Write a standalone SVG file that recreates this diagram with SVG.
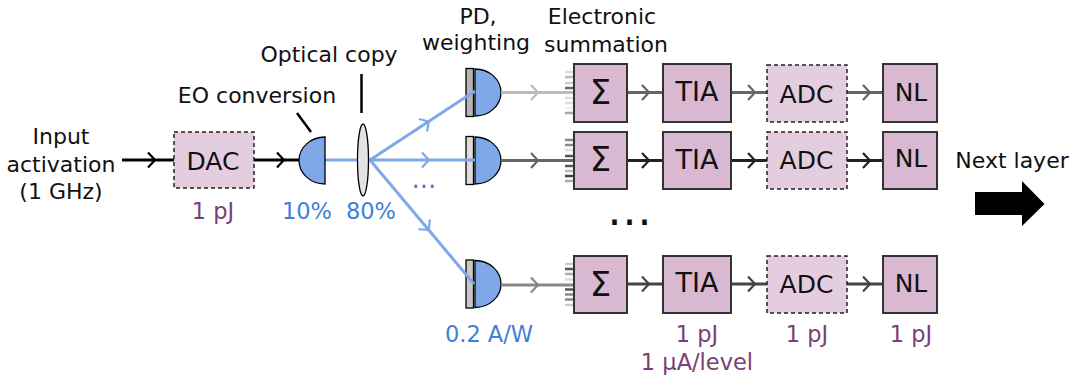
<svg xmlns="http://www.w3.org/2000/svg" width="1073" height="375" viewBox="0 0 1073 375">
<style>
text{font-family:"DejaVu Sans",Verdana,sans-serif;font-size:22px;fill:#111;text-anchor:middle}
.b{fill:#3f7fdc;font-size:22.500px}.m{fill:#7b3f73;font-size:22.500px}
.big{font-size:25px}.tia{font-size:27px}.sig{font-size:34px}
.box{fill:#d9b8d1;stroke:#333;stroke-width:2}
.dash{fill:#e5cde0;stroke:#222;stroke-width:1.500;stroke-dasharray:4 3}
.pd{fill:#7ea8e8;stroke:#000;stroke-width:1.300}
.bar{stroke:#000;stroke-width:1.300}
.l{fill:none;stroke-width:3}
.lb{fill:none;stroke:#7ea8e8;stroke-width:3}
.t{stroke-width:2.500}
</style>
<defs>
<path id="head" d="M-6-7.500L1 0L-6 7.500" fill="none" stroke-width="2.200"/>
<path id="d" d="M0-23.500A26 23.500 0 0 1 0 23.500Z"/>
</defs>
<rect width="1073" height="375" fill="#fff"/>
<g id="pd-bars">
<rect class="bar" x="466" y="68.500" width="7.500" height="48" fill="#b5b5b5"/>
<rect class="bar" x="466" y="136.500" width="7.500" height="48" fill="#dcdcdc"/>
<rect class="bar" x="466" y="260" width="7.500" height="48" fill="#c8c8c8"/>
</g>
<g id="pd-bodies">
<use href="#d" x="475" y="92.500" class="pd"/>
<use href="#d" x="475" y="160.500" class="pd"/>
<use href="#d" x="475" y="284" class="pd"/>
</g>
<g id="connectors">
<g stroke="#000"><path class="l" d="M122 160H174M254 160H299"/><use href="#head" x="154" y="160"/><use href="#head" x="283" y="160"/></g>
<g stroke="#000"><path d="M361.500 74V113M297 113L311 132" fill="none" stroke-width="2.500"/></g>
<g stroke="#7ea8e8"><path class="lb" d="M325 160H475M370 160L475 91M370 160L474 284"/><use href="#head" x="428" y="160"/><use href="#head" transform="translate(428,122) rotate(-33)"/><use href="#head" transform="translate(428,229) rotate(50)"/></g>
<g stroke="#bbb"><path class="l" d="M501 92.500H574"/><use href="#head" x="537" y="92.500"/></g>
<g stroke="#666"><path class="l" d="M501 160.500H574"/><use href="#head" x="537" y="160.500"/></g>
<g stroke="#888"><path class="l" d="M501 285H574"/><use href="#head" x="537" y="285"/></g>
<g stroke="#666"><path class="l" d="M627 92.500H663M731 92.500H767M847 92.500H883"/><use href="#head" x="648" y="92.500"/><use href="#head" x="754" y="92.500"/><use href="#head" x="869" y="92.500"/></g>
<g stroke="#222"><path class="l" d="M627 160.500H663M731 160.500H767M847 160.500H883"/><use href="#head" x="648" y="160.500"/><use href="#head" x="754" y="160.500"/><use href="#head" x="869" y="160.500"/></g>
<g stroke="#444"><path class="l" d="M627 284H663M731 284H767M847 284H883"/><use href="#head" x="648" y="284"/><use href="#head" x="754" y="284"/><use href="#head" x="869" y="284"/></g>
<g id="comb1" class="t"><path stroke="#ddd" d="M565 72H574"/><path stroke="#bbb" d="M565 77H574"/><path stroke="#ccc" d="M565 83H574"/><path stroke="#666" d="M565 88H574"/><path stroke="#ddd" d="M565 98H574"/><path stroke="#ddd" d="M565 103H574"/><path stroke="#eee" d="M565 108H574"/><path stroke="#aaa" d="M565 113H574"/></g>
<g id="comb2" class="t"><path stroke="#888" d="M565 140H574"/><path stroke="#888" d="M565 145H574"/><path stroke="#ddd" d="M565 150H574"/><path stroke="#555" d="M565 156H574"/><path stroke="#555" d="M565 166H574"/><path stroke="#bbb" d="M565 171H574"/><path stroke="#444" d="M565 176H574"/><path stroke="#aaa" d="M565 181H574"/></g>
<g id="comb3" class="t"><path stroke="#ccc" d="M565 264H574"/><path stroke="#555" d="M565 269H574"/><path stroke="#aaa" d="M565 274H574"/><path stroke="#ddd" d="M565 279.500H574"/><path stroke="#555" d="M565 289.500H574"/><path stroke="#888" d="M565 294.500H574"/><path stroke="#888" d="M565 299.500H574"/><path stroke="#ccc" d="M565 305H574"/></g>
</g>
<g id="input-label"><text x="61" y="144">Input</text><text x="61" y="172">activation</text><text x="61" y="199">(1 GHz)</text></g>
<g id="dac"><rect class="dash" x="174" y="132" width="80" height="56"/><text class="big" x="213" y="170">DAC</text><text class="m" x="213" y="219">1 pJ</text></g>
<g id="eo"><path class="pd" d="M325 137A26 23.500 0 0 0 325 184Z"/><text x="257" y="103">EO conversion</text><text class="b" x="307" y="219">10%</text></g>
<g id="lens"><ellipse cx="363" cy="160" rx="5.500" ry="36" fill="#e3e3e3" stroke="#000" stroke-width="1.300"/><text x="329" y="62">Optical copy</text><text class="b" x="371" y="219">80%</text></g>
<g id="pd-label"><text x="478" y="24">PD,</text><text x="476" y="50">weighting</text><text x="602" y="24">Electronic</text><text x="606" y="52">summation</text></g>
<g id="pd-dots"><text class="b" x="424" y="188" style="font-size:26px">...</text><text class="b" x="489" y="342">0.2 A/W</text></g>
<g id="row1">
<rect class="box" x="574" y="64" width="53" height="58"/><text class="sig" x="600.500" y="104">Σ</text>
<rect class="box" x="663" y="64" width="68" height="58"/><text class="tia" x="697" y="101">TIA</text>
<rect class="dash" x="767" y="65" width="80" height="57"/><text class="big" x="806.500" y="103">ADC</text>
<rect class="box" x="883" y="64" width="54" height="58"/><text class="big" x="911" y="101">NL</text></g>
<g id="row2">
<rect class="box" x="574" y="132" width="53" height="57"/><text class="sig" x="600.500" y="171">Σ</text>
<rect class="box" x="663" y="132" width="68" height="57"/><text class="tia" x="697" y="169">TIA</text>
<rect class="dash" x="767" y="132" width="80" height="57"/><text class="big" x="806.500" y="169">ADC</text>
<rect class="box" x="883" y="132" width="54" height="57"/><text class="big" x="911" y="167">NL</text></g>
<g id="row3">
<rect class="box" x="574" y="256" width="53" height="57"/><text class="sig" x="600.500" y="296">Σ</text>
<rect class="box" x="663" y="256" width="68" height="57"/><text class="tia" x="697" y="292">TIA</text>
<rect class="dash" x="767" y="256" width="80" height="57"/><text class="big" x="806.500" y="293">ADC</text>
<rect class="box" x="883" y="256" width="54" height="57"/><text class="big" x="911" y="292">NL</text></g>
<g id="ellipsis"><text x="630" y="225" style="font-size:44px;letter-spacing:1px">...</text></g>
<g id="specs"><text class="m" x="697" y="342">1 pJ</text><text class="m" x="697" y="370">1 µA/level</text><text class="m" x="807" y="342">1 pJ</text><text class="m" x="911" y="342">1 pJ</text></g>
<g id="next"><text x="1012" y="168">Next layer</text><path d="M975 192H1022V181L1044.500 204L1022 226V215H975Z" fill="#000"/></g>
</svg>
